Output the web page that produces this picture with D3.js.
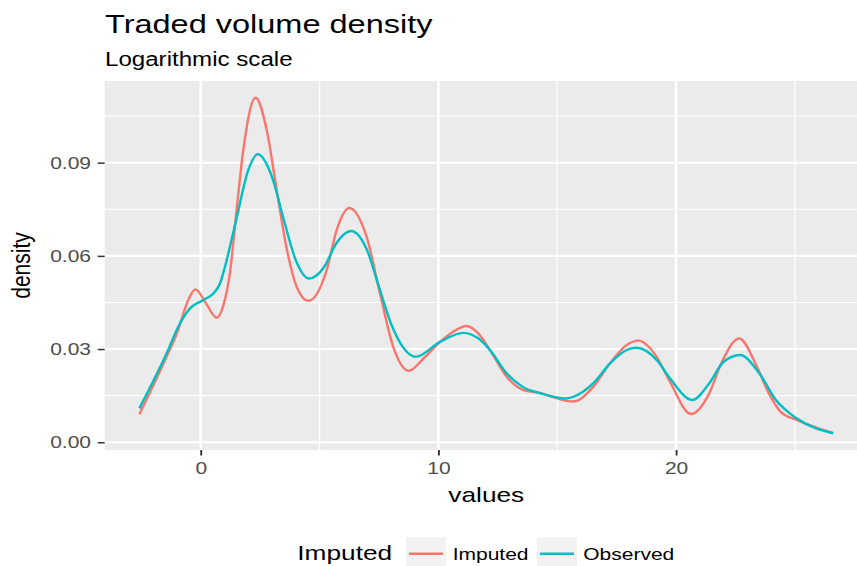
<!DOCTYPE html>
<html><head><meta charset="utf-8">
<script src="https://cdn.jsdelivr.net/npm/d3@7"></script>
<style>
body{margin:0;background:#fff}
svg{display:block}
text{font-family:"Liberation Sans",Arial,Helvetica,sans-serif}
</style>
</head><body><svg id="c" width="857" height="566"></svg>
<script>
// ---- data ----
const imputedX = [-2.58,-1.5,-1.0,-0.5,-0.22,0.2,0.67,0.95,1.23,1.51,1.79,2.31,2.78,3.2,3.62,4.04,4.53,5.3,5.72,6.25,6.98,7.54,8.1,8.75,9.4,10.07,10.6,11.19,11.7,12.17,12.87,13.57,14.27,14.83,15.67,16.52,17.22,17.92,18.41,19.18,19.74,20.63,21.4,21.9,22.66,23.4,23.9,24.4,25.07,26.61];
const imputedY = [0.0090,0.0265,0.0351,0.0462,0.0492,0.0450,0.0401,0.0440,0.0545,0.0747,0.0940,0.1109,0.1004,0.0811,0.0622,0.0500,0.0455,0.0554,0.0683,0.0754,0.0661,0.0480,0.0307,0.0230,0.0272,0.0323,0.0355,0.0374,0.0348,0.0297,0.0211,0.0168,0.0159,0.0145,0.0131,0.0179,0.0254,0.0313,0.0327,0.0275,0.0195,0.0091,0.0158,0.0254,0.0334,0.0243,0.0158,0.0098,0.0072,0.0029];
const observedX = [-2.58,-1.5,-0.87,-0.45,0.11,0.53,0.81,1.02,1.5,2.0,2.4,3.0,3.5,4.0,4.56,5.2,5.7,6.33,7.0,7.5,8.0,8.5,9.04,10.07,11.05,11.7,12.17,12.87,13.57,14.27,15.35,16.52,17.22,17.92,18.34,19.18,19.74,20.68,21.4,22.0,22.69,23.5,24.2,25.07,26.61];
const observedY = [0.0109,0.0275,0.0383,0.0431,0.0458,0.0479,0.0511,0.0565,0.0718,0.0876,0.0927,0.0854,0.0715,0.0586,0.0527,0.0565,0.0640,0.0680,0.0618,0.0500,0.0383,0.0307,0.0275,0.0323,0.0352,0.0333,0.0297,0.0222,0.0177,0.0158,0.0141,0.0190,0.0254,0.0297,0.0304,0.0265,0.0206,0.0136,0.0190,0.0259,0.0281,0.0222,0.0136,0.0077,0.0029];
const seriesNames = ["Imputed","Observed"];
const seriesColors = ["#F8766D","#00BFC4"];
const xTicks = [0,10,20];
const xTickLabels = ["0","10","20"];
const xMinor = [-5,5,15,25];
const yTicks = [0,0.03,0.06,0.09];
const yTickLabels = ["0.00","0.03","0.06","0.09"];
const yMinor = [0.015,0.045,0.075,0.105];
const titleText = "Traded volume density";
const subtitleText = "Logarithmic scale";
const xTitle = "values", yTitle = "density", legendTitle = "Imputed";

// ---- layout ----
const SX = 1.25; // horizontal stretch of the reference
const P = {l:104.7, r:867.9, t:81, b:450};
const svg = d3.select("#c");

const series = [
  {name:seriesNames[0], color:seriesColors[0], pts:imputedX.map((x,i)=>[x,imputedY[i]])},
  {name:seriesNames[1], color:seriesColors[1], pts:observedX.map((x,i)=>[x,observedY[i]])}
];
const allX = imputedX.concat(observedX), allY = imputedY.concat(observedY);
const xe = d3.extent(allX), ye = d3.extent(allY);
const xp = (xe[1]-xe[0])*0.05, yp = (ye[1]-ye[0])*0.05;
const x = d3.scaleLinear().domain([xe[0]-xp, xe[1]+xp]).range([P.l, P.r]);
const y = d3.scaleLinear().domain([ye[0]-yp, ye[1]+yp]).range([P.b, P.t]);

function stext(g, px, py, str, size, anchor, fill){
  return g.append("text")
    .attr("transform", `translate(${px},${py}) scale(${SX},1)`)
    .attr("text-anchor", anchor||"start")
    .attr("font-size", size)
    .attr("fill", fill||"#000")
    .text(str);
}

// panel
svg.append("rect").attr("x",P.l).attr("y",P.t).attr("width",P.r-P.l).attr("height",P.b-P.t).attr("fill","#EBEBEB");
const grid = svg.append("g");
const [d0,d1] = x.domain();
grid.selectAll(".xm").data(xMinor.filter(v=>v>=d0&&v<=d1)).join("line")
  .attr("x1",d=>x(d)).attr("x2",d=>x(d)).attr("y1",P.t).attr("y2",P.b)
  .attr("stroke","#fff").attr("stroke-width",1.3);
grid.selectAll(".ym").data(yMinor).join("line")
  .attr("y1",d=>y(d)).attr("y2",d=>y(d)).attr("x1",P.l).attr("x2",P.r)
  .attr("stroke","#fff").attr("stroke-width",1.05);
grid.selectAll(".xM").data(xTicks).join("line")
  .attr("x1",d=>x(d)).attr("x2",d=>x(d)).attr("y1",P.t).attr("y2",P.b)
  .attr("stroke","#fff").attr("stroke-width",2.6);
grid.selectAll(".yM").data(yTicks).join("line")
  .attr("y1",d=>y(d)).attr("y2",d=>y(d)).attr("x1",P.l).attr("x2",P.r)
  .attr("stroke","#fff").attr("stroke-width",2.1);

// curves
const line = d3.line().x(d=>x(d[0])).y(d=>y(d[1])).curve(d3.curveMonotoneX);
svg.append("g").selectAll("path").data(series).join("path")
  .attr("d",d=>line(d.pts)).attr("fill","none")
  .attr("stroke",d=>d.color).attr("stroke-width",2.4)
  .attr("stroke-linejoin","round").attr("stroke-linecap","butt");

// axes
const ax = svg.append("g").attr("transform",`translate(0,${P.b})`)
  .call(d3.axisBottom(x).tickValues(xTicks).tickFormat((d,i)=>xTickLabels[i]).tickSize(5.5).tickPadding(6.6));
ax.select(".domain").remove();
ax.selectAll(".tick line").attr("stroke","#333").attr("stroke-width",1.9);
ax.selectAll(".tick text").attr("fill","#4D4D4D").attr("font-size",16.8)
  .attr("font-family",'"Liberation Sans",Arial,sans-serif')
  .attr("transform",`scale(${SX},1)`);

const ay = svg.append("g").attr("transform",`translate(${P.l},0)`)
  .call(d3.axisLeft(y).tickValues(yTicks).tickFormat((d,i)=>yTickLabels[i]).tickSize(7).tickPadding(6.7));
ay.select(".domain").remove();
ay.selectAll(".tick line").attr("stroke","#333").attr("stroke-width",1.5);
ay.selectAll(".tick text").each(function(){
  const t = d3.select(this); const tx = +t.attr("x");
  t.attr("x",0).attr("transform",`translate(${tx},0) scale(${SX},1)`);
}).attr("fill","#4D4D4D").attr("font-size",16.8).attr("font-family",'"Liberation Sans",Arial,sans-serif');

// titles
stext(svg, 105, 33, titleText, 26);
stext(svg, 105, 66, subtitleText, 19.3);
stext(svg, (P.l+P.r)/2, 501.7, xTitle, 21, "middle");
svg.append("text")
  .attr("transform",`translate(29.5,${(P.t+P.b)/2}) rotate(-90) scale(1,${SX})`)
  .attr("text-anchor","middle").attr("font-size",21).text(yTitle);

// legend
const lg = svg.append("g");
stext(lg, 297.3, 560, legendTitle, 21);
const keyX = [406, 537], labX = [452.7, 583.3];
series.forEach((s,i)=>{
  lg.append("rect").attr("x",keyX[i]).attr("y",537.3).attr("width",40).attr("height",32).attr("fill","#F2F2F2");
  lg.append("line").attr("x1",keyX[i]+3).attr("x2",keyX[i]+37).attr("y1",553.8).attr("y2",553.8)
    .attr("stroke",s.color).attr("stroke-width",2.4);
  stext(lg, labX[i], 560, s.name, 16.8);
});
</script>
</body></html>
